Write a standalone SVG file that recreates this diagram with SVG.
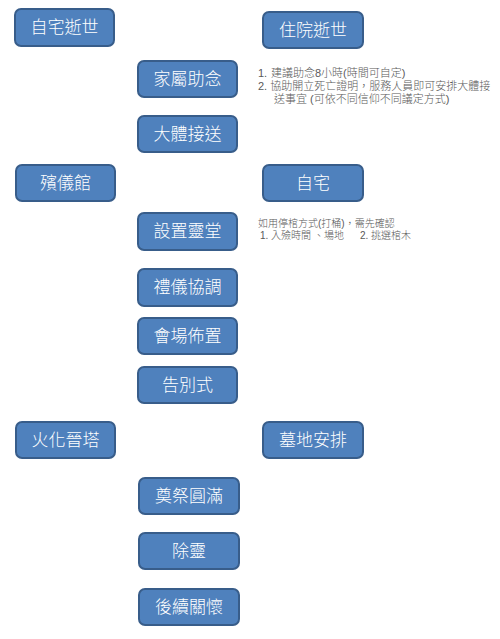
<svg xmlns="http://www.w3.org/2000/svg" width="500" height="639" viewBox="0 0 500 639">
<style>
.box{fill:#4F81BD;stroke:#385D8A;stroke-width:2}
.lbl{font-family:"Liberation Sans","Noto Sans CJK TC",sans-serif;font-size:17px;font-weight:300;fill:#FFFFFF;text-anchor:middle;dominant-baseline:central}
.note{font-family:"Liberation Sans","Noto Sans CJK TC",sans-serif;fill:#595959;font-weight:300}
</style>
<rect width="500" height="639" fill="#FFFFFF"/>
<g id="n1"><rect class="box" x="15" y="9" width="99" height="37" rx="6"/><text class="lbl" x="64.5" y="27.5">自宅逝世</text></g>
<g id="n2"><rect class="box" x="138" y="61" width="99" height="36" rx="6"/><text class="lbl" x="187.5" y="79">家屬助念</text></g>
<g id="n3"><rect class="box" x="138" y="116" width="99" height="36" rx="6"/><text class="lbl" x="187.5" y="134">大體接送</text></g>
<g id="n4"><rect class="box" x="263" y="12" width="100" height="36" rx="6"/><text class="lbl" x="313" y="30">住院逝世</text></g>
<g id="n5"><rect class="box" x="16" y="165" width="99" height="36" rx="6"/><text class="lbl" x="65.5" y="183">殯儀館</text></g>
<g id="n6"><rect class="box" x="263" y="165" width="100" height="36" rx="6"/><text class="lbl" x="313" y="183">自宅</text></g>
<g id="n7"><rect class="box" x="138" y="213" width="99" height="37" rx="6"/><text class="lbl" x="187.5" y="231.5">設置靈堂</text></g>
<g id="n8"><rect class="box" x="138" y="269" width="99" height="37" rx="6"/><text class="lbl" x="187.5" y="287.5">禮儀協調</text></g>
<g id="n9"><rect class="box" x="138" y="318" width="99" height="36" rx="6"/><text class="lbl" x="187.5" y="336">會場佈置</text></g>
<g id="n10"><rect class="box" x="138" y="367" width="99" height="36" rx="6"/><text class="lbl" x="187.5" y="385">告別式</text></g>
<g id="n11"><rect class="box" x="16" y="422" width="99" height="36" rx="6"/><text class="lbl" x="65.5" y="440">火化晉塔</text></g>
<g id="n12"><rect class="box" x="263" y="422" width="100" height="36" rx="6"/><text class="lbl" x="313" y="440">墓地安排</text></g>
<g id="n13"><rect class="box" x="139" y="478" width="100" height="36" rx="6"/><text class="lbl" x="189" y="496">奠祭圓滿</text></g>
<g id="n14"><rect class="box" x="139" y="533" width="100" height="36" rx="6"/><text class="lbl" x="189" y="551">除靈</text></g>
<g id="n15"><rect class="box" x="139" y="589" width="100" height="36" rx="6"/><text class="lbl" x="189" y="607">後續關懷</text></g>
<g id="connectors"></g>
<g id="notes">
<text class="note" font-size="11" x="258" y="77">1. <tspan x="271">建議助念8小時(時間可自定)</tspan></text>
<text class="note" font-size="11" x="258" y="90">2. 協助開立死亡證明，服務人員即可安排大體接</text>
<text class="note" font-size="11" x="274" y="103">送事宜 (可依不同信仰不同議定方式)</text>
<text class="note" font-size="10" x="258" y="227">如用停棺方式(打桶)，需先確認</text>
<text class="note" font-size="10" x="260" y="239">1. 入殮時間 、場地<tspan x="360">2. 挑選棺木</tspan></text>
</g>
</svg>
